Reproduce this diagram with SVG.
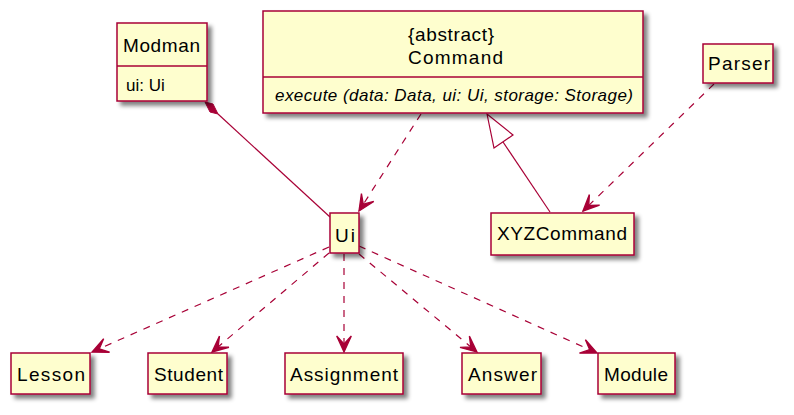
<svg xmlns="http://www.w3.org/2000/svg" width="794" height="415" viewBox="0 0 794 415">
<style>
.box{fill:#FEFECE;stroke:#A80036;stroke-width:1.5;filter:url(#sh)}
.div{stroke:#A80036;stroke-width:1.5}
.t{font-family:"Liberation Sans",Arial,sans-serif;font-size:19px;fill:#000}
.i{font-style:italic;font-size:17px}
.dep{fill:none;stroke:#A80036;stroke-width:1.2;stroke-dasharray:7,7;marker-end:url(#ar)}
.sol{fill:none;stroke:#A80036;stroke-width:1.2}
</style>
<defs>
<filter id="sh" x="-20%" y="-20%" width="150%" height="160%">
<feGaussianBlur in="SourceAlpha" stdDeviation="2"/>
<feOffset dx="4" dy="4" result="b"/>
<feComponentTransfer><feFuncA type="linear" slope="0.5"/></feComponentTransfer>
<feMerge><feMergeNode/><feMergeNode in="SourceGraphic"/></feMerge>
</filter>
<marker id="ar" markerUnits="userSpaceOnUse" markerWidth="20" markerHeight="20" viewBox="-13 -7 15 14" refX="0" refY="0" orient="auto">
<path d="M0,0 L-12,-5.5 L-6,0 L-12,5.5 Z" fill="#A80036" stroke="#A80036" stroke-width="1"/>
</marker>
</defs>
<g id="connectors">
<path class="sol" d="M218,114 L330,217"/>
<path d="M205,102 L213,104 L218,114 L210,112 Z" fill="#A80036" stroke="#A80036" stroke-width="1"/>
<path class="dep" d="M421,114 L359,211"/>
<path class="sol" d="M503,142 L550,212"/>
<path d="M487,114 L494,148 L513,135 Z" fill="none" stroke="#A80036" stroke-width="1.2"/>
<path class="dep" d="M714,84 L583,211"/>
<path class="dep" d="M329,247 L92,352"/>
<path class="dep" d="M329,253 L212,352"/>
<path class="dep" d="M344,254 L344,352"/>
<path class="dep" d="M359,254 L477,352"/>
<path class="dep" d="M359,246 L597,353"/>
</g>
<g id="Modman">
<rect class="box" x="117" y="23" width="90" height="78"/>
<line class="div" x1="117" y1="66" x2="207" y2="66"/>
<text class="t" x="123" y="52" textLength="77" lengthAdjust="spacing">Modman</text>
<text class="t" x="126" y="91" style="font-size:17px">ui: Ui</text>
</g>
<g id="Command">
<rect class="box" x="263" y="11" width="380" height="102"/>
<line class="div" x1="263" y1="77" x2="643" y2="77"/>
<text class="t" x="408" y="41" textLength="86" lengthAdjust="spacing">{abstract}</text>
<text class="t" x="408" y="64" textLength="95" lengthAdjust="spacing">Command</text>
<text class="t i" x="275" y="101" textLength="358" lengthAdjust="spacing">execute (data: Data, ui: Ui, storage: Storage)</text>
</g>
<g id="Parser">
<rect class="box" x="703" y="44" width="70" height="39"/>
<text class="t" x="708" y="70" textLength="62" lengthAdjust="spacing">Parser</text>
</g>
<g id="Ui">
<rect class="box" x="330" y="213" width="29" height="40"/>
<text class="t" x="335" y="242" textLength="20" lengthAdjust="spacing">Ui</text>
</g>
<g id="XYZCommand">
<rect class="box" x="491" y="213" width="143" height="42"/>
<text class="t" x="497" y="240" textLength="130" lengthAdjust="spacing">XYZCommand</text>
</g>
<g id="Lesson">
<rect class="box" x="11" y="353" width="79" height="41"/>
<text class="t" x="17" y="381" textLength="68" lengthAdjust="spacing">Lesson</text>
</g>
<g id="Student">
<rect class="box" x="148" y="353" width="79" height="41"/>
<text class="t" x="154" y="381" textLength="69" lengthAdjust="spacing">Student</text>
</g>
<g id="Assignment">
<rect class="box" x="285" y="353" width="118" height="41"/>
<text class="t" x="290" y="381" textLength="108" lengthAdjust="spacing">Assignment</text>
</g>
<g id="Answer">
<rect class="box" x="462" y="353" width="79" height="41"/>
<text class="t" x="468" y="381" textLength="69" lengthAdjust="spacing">Answer</text>
</g>
<g id="Module">
<rect class="box" x="598" y="353" width="77" height="41"/>
<text class="t" x="604" y="381" textLength="64" lengthAdjust="spacing">Module</text>
</g>
</svg>
